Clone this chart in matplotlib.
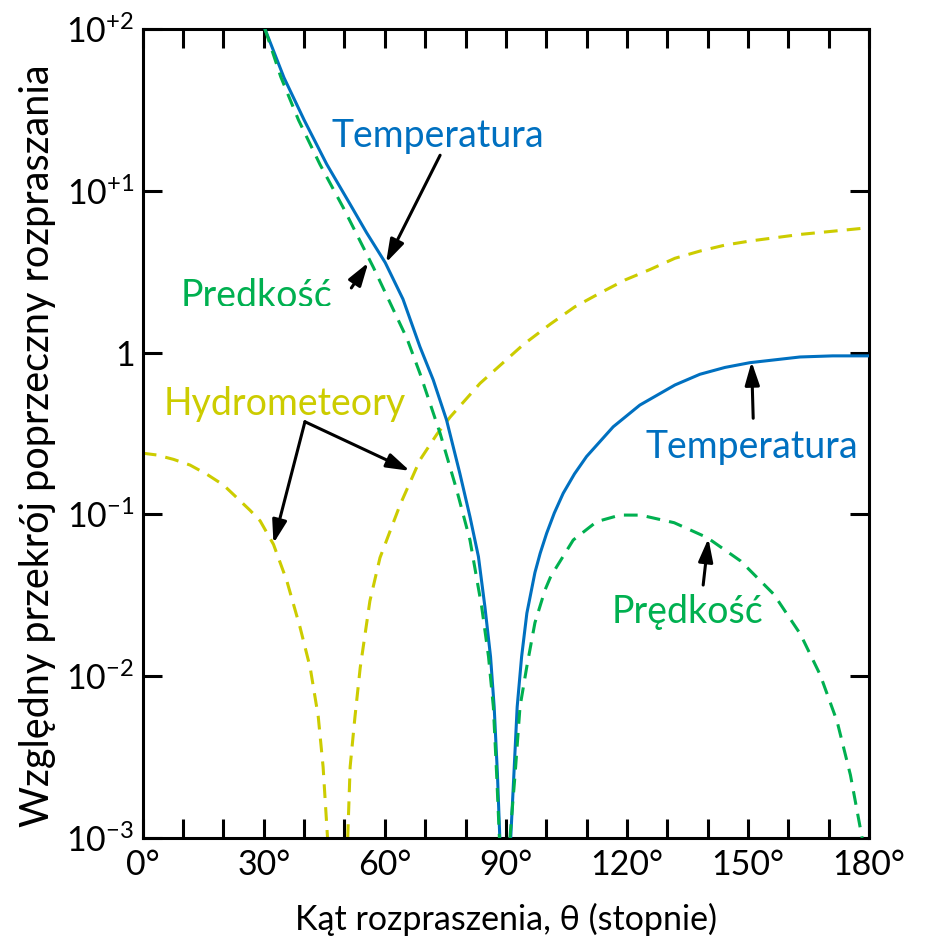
import matplotlib
matplotlib.use("Agg")
import matplotlib.pyplot as plt
from matplotlib.ticker import FixedLocator, NullLocator, FixedFormatter
from matplotlib.transforms import Bbox, TransformedBbox

plt.rcParams['font.family'] = ['Lato', 'DejaVu Sans']

# scattering angle (degrees) and relative cross-section, one list pair per branch
temp_left_deg = [30.3, 35.0, 40.0, 45.6, 51.4, 55.5, 60.1, 64.5, 68.7, 72.0, 75.3, 78.6, 81.1, 83.2, 84.8, 86.2, 87.1, 87.9, 88.5]
temp_left_val = [100, 50.1, 27.4, 14.6, 8.26, 5.5, 3.6, 2.14, 1.087, 0.678, 0.383, 0.179, 0.0968, 0.0548, 0.0269, 0.0132, 0.00646, 0.00251, 0.001]
temp_right_deg = [91.2, 92.0, 92.8, 93.9, 95.2, 97.2, 98.5, 100.1, 102.0, 104.2, 107.0, 110.0, 116.6, 123.2, 131.9, 138.1, 144.3, 150.5, 162.9, 171.0, 180.0]
temp_right_val = [0.001, 0.00251, 0.00646, 0.0132, 0.0245, 0.0437, 0.0575, 0.0764, 0.102, 0.135, 0.178, 0.228, 0.348, 0.474, 0.631, 0.735, 0.81, 0.867, 0.94, 0.955, 0.955]

vel_left_deg = [30.3, 34.2, 38.6, 43.9, 49.7, 57.2, 65.5, 68.7, 73.7, 77.8, 81.1, 84.0, 85.7, 86.9, 87.7, 88.4]
vel_left_val = [100, 50.7, 27.4, 14.6, 7.87, 3.35, 1.22, 0.745, 0.317, 0.142, 0.0695, 0.0269, 0.0132, 0.00646, 0.00251, 0.001]
vel_right_deg = [91.0, 92.3, 93.5, 95.2, 97.2, 99.7, 101.0, 102.6, 106.7, 112.5, 118.3, 123.4, 131.7, 139.9, 148.2, 156.4, 163.0, 167.9, 172.1, 175.4, 178.3]
vel_right_val = [0.001, 0.00251, 0.00646, 0.0115, 0.0214, 0.0341, 0.0407, 0.0475, 0.0695, 0.0902, 0.0991, 0.099, 0.0889, 0.0719, 0.0515, 0.0321, 0.0182, 0.0102, 0.00525, 0.00245, 0.001]

hydro_left_deg = [0.0, 3.5, 7.6, 11.7, 15.9, 20.0, 23.3, 26.6, 29.1, 32.4, 35.7, 39.0, 41.5, 43.5, 44.7, 45.8]
hydro_left_val = [0.239, 0.233, 0.219, 0.202, 0.177, 0.152, 0.127, 0.106, 0.0912, 0.0653, 0.0389, 0.020, 0.0113, 0.00562, 0.00275, 0.001]
hydro_right_deg = [50.8, 51.4, 52.6, 53.9, 56.3, 58.8, 63.8, 68.7, 72.9, 76.2, 83.6, 94.3, 101.0, 107.1, 113.4, 119.5, 125.8, 131.9, 138.2, 144.3, 150.6, 163.0, 180.0]
hydro_right_val = [0.001, 0.00275, 0.00562, 0.0113, 0.0292, 0.054, 0.115, 0.217, 0.313, 0.40, 0.646, 1.12, 1.50, 1.92, 2.34, 2.81, 3.27, 3.83, 4.25, 4.62, 4.90, 5.38, 5.92]

x_ticks = [0, 30, 60, 90, 120, 150, 180]
x_tick_labels = ['0°', '30°', '60°', '90°', '120°', '150°', '180°']
y_ticks = [1e-3, 1e-2, 1e-1, 1, 1e1, 1e2]
y_tick_labels = [r'$\mathregular{10^{-3}}$', r'$\mathregular{10^{-2}}$', r'$\mathregular{10^{-1}}$',
                 '1', r'$\mathregular{10^{+1}}$', r'$\mathregular{10^{+2}}$']

BLUE = '#0070c0'
GREEN = '#00b050'
YELLOW = '#cccc00'

fig = plt.figure(figsize=(9.33, 9.40), dpi=100)
ax = fig.add_axes([0.153, 0.1085, 0.7784, 0.8606])
ax.set_yscale('log')

lw = 2.2
dash = (4.5, 3.0)
ax.plot(hydro_left_deg, hydro_left_val, color=YELLOW, lw=lw, dashes=dash, zorder=2)
ax.plot(hydro_right_deg, hydro_right_val, color=YELLOW, lw=lw, dashes=dash, zorder=2)
ax.plot(temp_left_deg, temp_left_val, color=BLUE, lw=lw, zorder=3)
ax.plot(temp_right_deg, temp_right_val, color=BLUE, lw=lw, zorder=3)
ax.plot(vel_left_deg, vel_left_val, color=GREEN, lw=lw, dashes=dash, zorder=4)
ax.plot(vel_right_deg, vel_right_val, color=GREEN, lw=lw, dashes=dash, zorder=4)

ax.set_xlim(0, 180)
ax.set_ylim(1e-3, 1e2)

ax.xaxis.set_major_locator(FixedLocator(x_ticks))
ax.xaxis.set_major_formatter(FixedFormatter(x_tick_labels))
ax.xaxis.set_minor_locator(FixedLocator(list(range(10, 180, 10))))
ax.yaxis.set_major_locator(FixedLocator(y_ticks))
ax.yaxis.set_major_formatter(FixedFormatter(y_tick_labels))
ax.yaxis.set_minor_locator(NullLocator())

ax.tick_params(which='both', direction='in', length=14, width=2.2,
               top=True, right=True, labelsize=24.5, color='black')
ax.tick_params(axis='x', pad=8)
ax.tick_params(axis='y', pad=6)
for sp in ax.spines.values():
    sp.set_linewidth(2.2)

ax.set_xlabel('Kąt rozpraszenia, θ (stopnie)', fontsize=24.5)
ax.set_ylabel('Względny przekrój poprzeczny rozpraszania', fontsize=28.5)
ax.xaxis.set_label_coords(0.5, -0.08)
ax.yaxis.set_label_coords(-0.12, 0.485)

arrow = dict(arrowstyle='-|>,head_length=0.7,head_width=0.22', color='black',
             lw=2.2, shrinkA=0, shrinkB=0, mutation_scale=20)

# labels and pointers
ax.text(73.2, 18.7, 'Temperatura', color=BLUE, fontsize=27, ha='center', va='baseline')
ax.annotate('', xy=(60.3, 3.6), xytext=(73.7, 16.6), arrowprops=arrow)

pv = ax.text(28.3, 1.915, 'Prędkość', color=GREEN, fontsize=27, ha='center',
             va='baseline', clip_on=True)
pv.set_clip_box(TransformedBbox(Bbox([[0, 1.95], [180, 100]]), ax.transData))
ax.annotate('', xy=(55.9, 3.60), xytext=(51.7, 2.51), arrowprops=arrow)

ax.text(35.3, 0.411, 'Hydrometeory', color=YELLOW, fontsize=27, ha='center', va='baseline')
ax.annotate('', xy=(66.2, 0.186), xytext=(40.2, 0.374), arrowprops=arrow)
ax.annotate('', xy=(32.4, 0.0662), xytext=(40.2, 0.374), arrowprops=arrow)

ax.text(150.9, 0.222, 'Temperatura', color=BLUE, fontsize=27, ha='center', va='baseline')
ax.annotate('', xy=(150.9, 0.879), xytext=(151.3, 0.393), arrowprops=arrow)

ax.text(135.1, 0.0213, 'Prędkość', color=GREEN, fontsize=27, ha='center', va='baseline')
ax.annotate('', xy=(140.2, 0.0711), xytext=(138.9, 0.0366), arrowprops=arrow)

fig.savefig('out.png', dpi=100)
